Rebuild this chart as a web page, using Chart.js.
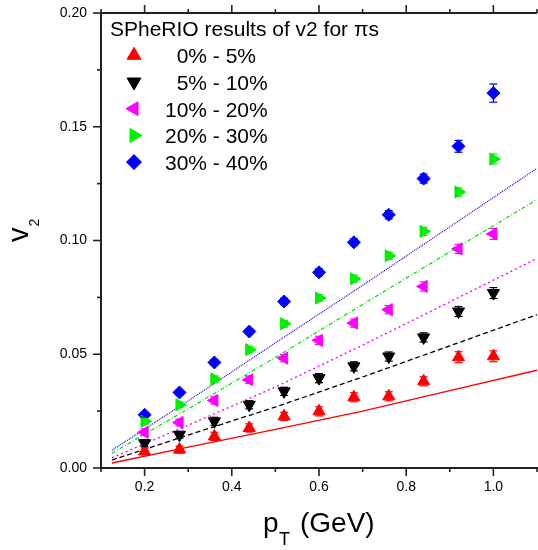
<!DOCTYPE html>
<html lang="en">
<head>
<meta charset="UTF-8">
<title>SPheRIO results of v2 for pions</title>
<script src="https://cdn.jsdelivr.net/npm/chart.js"></script>
<style>
  html, body { margin: 0; padding: 0; background: #fff; overflow: hidden; }
  canvas { display: block; }
</style>
</head>
<body>
<canvas id="v2Chart" width="545" height="550"></canvas>
<script>
  // measured points (pT in GeV)
  const pt = [0.2, 0.28, 0.36, 0.44, 0.52, 0.6, 0.68, 0.76, 0.84, 0.92, 1.0];
  const v2_0_5   = [0.0073, 0.0081, 0.0139, 0.0176, 0.0227, 0.0249, 0.0311, 0.0315, 0.0381, 0.0487, 0.0491];
  const v2_5_10  = [0.0109, 0.0146, 0.0205, 0.0278, 0.0337, 0.0395, 0.0447, 0.0490, 0.0574, 0.0688, 0.0769];
  const v2_10_20 = [0.0157, 0.0200, 0.0297, 0.0388, 0.0483, 0.0561, 0.0637, 0.0696, 0.0798, 0.0963, 0.1029];
  const v2_20_30 = [0.0205, 0.0278, 0.0391, 0.0520, 0.0634, 0.0747, 0.0832, 0.0933, 0.1040, 0.1213, 0.1358];
  const v2_30_40 = [0.0234, 0.0332, 0.0464, 0.0600, 0.0732, 0.0860, 0.0992, 0.1113, 0.1272, 0.1414, 0.1648];

  // error bars (+/-)
  const err_0_5   = [0.0015, 0.0015, 0.0018, 0.0018, 0.0018, 0.002, 0.002, 0.002, 0.002, 0.0024, 0.0024];
  const err_5_10  = [0.0015, 0.0015, 0.0018, 0.0018, 0.0018, 0.002, 0.002, 0.002, 0.002, 0.0022, 0.0024];
  const err_10_20 = [0.0015, 0.0015, 0.0016, 0.0016, 0.0016, 0.0018, 0.0018, 0.0018, 0.002, 0.002, 0.0024];
  const err_20_30 = [0.0012, 0.0012, 0.0014, 0.0014, 0.0015, 0.0015, 0.0016, 0.0016, 0.0018, 0.0018, 0.0022];
  const err_30_40 = [0.0010, 0.0010, 0.0012, 0.0012, 0.0014, 0.0015, 0.0015, 0.0018, 0.002, 0.0026, 0.004];

  // SPheRIO curves
  const curvePt = [0.125, 0.3, 0.5, 0.7, 0.9, 1.1];
  const curve_0_5   = [0.0022, 0.0092, 0.0170, 0.0250, 0.0340, 0.0430];
  const curve_5_10  = [0.0035, 0.0145, 0.0268, 0.0400, 0.0537, 0.0674];
  const curve_10_20 = [0.0045, 0.0188, 0.0356, 0.0540, 0.0730, 0.0921];
  const curve_20_30 = [0.0065, 0.0260, 0.0486, 0.0719, 0.0950, 0.1180];
  const curve_30_40 = [0.0078, 0.0295, 0.0550, 0.0803, 0.1060, 0.1317];

  const legendTitle = 'SPheRIO results of v2 for \u03c0s';
  const labels = ['  0% - 5%', '  5% - 10%', '10% - 20%', '20% - 30%', '30% - 40%'];

  const FONT = '"Liberation Sans", Arial, sans-serif';
  const pts = (xs, ys) => xs.map((x, i) => ({ x: x, y: ys[i] }));

  function markers(label, ys, errs, color, style, rot, r) {
    return {
      label: label, data: pts(pt, ys), errors: errs,
      backgroundColor: color, borderColor: color,
      pointStyle: style, pointRotation: rot, pointRadius: r, pointBorderWidth: 1,
      showLine: false
    };
  }
  function curve(ys, color, dash, w) {
    return {
      data: pts(curvePt, ys), borderColor: color, borderWidth: w, borderDash: dash,
      pointRadius: 0, showLine: true, fill: false, tension: 0
    };
  }

  const datasets = [
    markers(labels[0], v2_0_5, err_0_5, '#ff0000', 'triangle', 0, 7),
    markers(labels[1], v2_5_10, err_5_10, '#000000', 'triangle', 180, 7),
    markers(labels[2], v2_10_20, err_10_20, '#ff00ff', 'triangle', 270, 7),
    markers(labels[3], v2_20_30, err_20_30, '#00ee00', 'triangle', 90, 7),
    markers(labels[4], v2_30_40, err_30_40, '#0000ff', 'rectRot', 0, 6.5),
    curve(curve_0_5, '#ff0000', [], 1.4),
    curve(curve_5_10, '#000000', [5, 3], 1.3),
    curve(curve_10_20, '#ff00ff', [2, 3], 1.4),
    curve(curve_20_30, '#00dd00', [4, 2, 1, 2], 1.2),
    curve(curve_30_40, '#0000ff', [1, 1], 1.2)
  ];

  function line(ctx, x1, y1, x2, y2) {
    ctx.beginPath(); ctx.moveTo(x1, y1); ctx.lineTo(x2, y2); ctx.stroke();
  }

  const errorBars = {
    id: 'errorBars',
    afterDatasetsDraw(chart) {
      const { ctx, scales: { x, y } } = chart;
      chart.data.datasets.forEach(ds => {
        if (!ds.errors) return;
        ctx.save();
        ctx.strokeStyle = ds.borderColor;
        ctx.lineWidth = 1.2;
        ds.data.forEach((p, j) => {
          const px = x.getPixelForValue(p.x);
          const top = y.getPixelForValue(p.y + ds.errors[j]);
          const bot = y.getPixelForValue(p.y - ds.errors[j]);
          line(ctx, px, top, px, bot);
          line(ctx, px - 4, top, px + 4, top);
          line(ctx, px - 4, bot, px + 4, bot);
        });
        ctx.restore();
      });
    }
  };

  // top frame line, major/minor tick marks, legend and axis titles
  const frame = {
    id: 'frame',
    afterDraw(chart) {
      const { ctx, chartArea: a, scales: { x, y } } = chart;
      ctx.save();
      ctx.strokeStyle = '#222';
      ctx.lineWidth = 2;
      line(ctx, a.left - 1, a.top, a.right, a.top);
      ctx.lineWidth = 1.6;
      x.ticks.forEach(t => {
        const px = x.getPixelForValue(t.value);
        const len = Math.round(t.value * 10) % 2 === 0 ? 8 : 4;
        line(ctx, px, a.bottom, px, a.bottom + len);
        line(ctx, px, a.top, px, a.top - len);
      });
      y.ticks.forEach(t => {
        const py = y.getPixelForValue(t.value);
        const len = Math.round(t.value * 1000) % 50 === 0 ? 8 : 4;
        line(ctx, a.left, py, a.left - len, py);
      });

      // legend
      ctx.fillStyle = '#000';
      ctx.textAlign = 'left';
      ctx.textBaseline = 'alphabetic';
      ctx.font = '21px ' + FONT;
      ctx.fillText(legendTitle, 110, 36);
      chart.data.datasets.slice(0, 5).forEach((ds, i) => {
        const base = 63.3 + i * 26.7;
        ctx.fillStyle = ds.backgroundColor;
        ctx.strokeStyle = ds.borderColor;
        ctx.lineWidth = 1;
        Chart.helpers.drawPoint(ctx, {
          pointStyle: ds.pointStyle, rotation: ds.pointRotation,
          radius: ds.pointStyle === 'rectRot' ? 7.5 : 8, borderWidth: 1
        }, 134, base - 8);
        ctx.fillStyle = '#000';
        ctx.font = '21px ' + FONT;
        ctx.fillText(ds.label, 165, base);
      });

      // x title: pT (GeV)
      ctx.font = '28px ' + FONT;
      ctx.fillText('p', 263, 531.5);
      ctx.font = '18px ' + FONT;
      ctx.fillText('T', 279, 545);
      ctx.font = '28px ' + FONT;
      ctx.fillText('(GeV)', 300, 531.5);

      // y title: v2
      ctx.translate(27.5, 242);
      ctx.rotate(-Math.PI / 2);
      ctx.font = '29px ' + FONT;
      ctx.fillText('v', 0, 0);
      ctx.font = '14px ' + FONT;
      ctx.fillText('2', 15.5, 11);
      ctx.restore();
    }
  };

  new Chart(document.getElementById('v2Chart'), {
    type: 'scatter',
    data: { datasets: datasets },
    options: {
      responsive: false,
      animation: false,
      devicePixelRatio: 1,
      layout: { padding: { top: 13, right: 5, left: 0, bottom: 0 } },
      plugins: { legend: { display: false }, tooltip: { enabled: false } },
      scales: {
        x: {
          type: 'linear', min: 0.1, max: 1.1,
          grid: { display: false, drawTicks: false },
          border: { display: true, color: '#222', width: 2 },
          afterFit: s => { s.height = 82; s.paddingLeft = 0; s.paddingRight = 0; },
          ticks: {
            stepSize: 0.1, autoSkip: false, maxRotation: 0, padding: 11,
            color: '#000', font: { family: FONT, size: 14 },
            callback: v => Math.round(v * 10) % 2 === 0 ? v.toFixed(1) : ''
          }
        },
        y: {
          type: 'linear', min: 0, max: 0.2,
          grid: { display: false, drawTicks: false },
          border: { display: true, color: '#222', width: 2 },
          afterFit: s => { s.width = 101; s.paddingTop = 0; s.paddingBottom = 0; },
          ticks: {
            stepSize: 0.025, autoSkip: false, padding: 14,
            color: '#000', font: { family: FONT, size: 14 },
            callback: v => Math.round(v * 1000) % 50 === 0 ? v.toFixed(2) : ''
          }
        }
      }
    },
    plugins: [errorBars, frame]
  });
</script>
</body>
</html>
